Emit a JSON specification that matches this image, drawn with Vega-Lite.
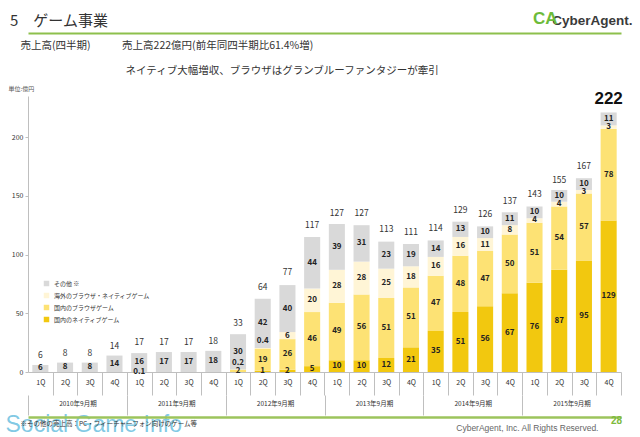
{
  "$schema": "https://vega.github.io/schema/vega-lite/v6.json",
  "width": 593,
  "height": 276,
  "autosize": {"type": "none"},
  "padding": {"left": 28, "top": 96, "right": 19, "bottom": 65},
  "background": "white",
  "config": {"font": "Noto Sans CJK JP", "view": {"stroke": null}},
  "title": {
    "text": "5　ゲーム事業",
    "subtitle": ["\u200b　売上高(四半期)　　　売上高222億円(前年同四半期比61.4%増)", "\u200b　　　　　　　　　　　ネイティブ大幅増収、ブラウザはグランブルーファンタジーが牽引"],
    "anchor": "start",
    "frame": "group",
    "dx": -18,
    "dy": 71,
    "fontSize": 15,
    "fontWeight": "normal",
    "color": "#333333",
    "subtitleFontSize": 10.5,
    "subtitleColor": "#333333",
    "subtitlePadding": 12,
    "subtitleLineHeight": 25
  },
  "datasets": {
    "seg": [
      {"q": "2010-1Q", "cat": "その他 ※", "value": 6},
      {"q": "2010-2Q", "cat": "その他 ※", "value": 8},
      {"q": "2010-3Q", "cat": "その他 ※", "value": 8},
      {"q": "2010-4Q", "cat": "その他 ※", "value": 14},
      {"q": "2011-1Q", "cat": "国内のブラウザゲーム", "value": 0.1},
      {"q": "2011-1Q", "cat": "その他 ※", "value": 16},
      {"q": "2011-2Q", "cat": "その他 ※", "value": 17},
      {"q": "2011-3Q", "cat": "その他 ※", "value": 17},
      {"q": "2011-4Q", "cat": "その他 ※", "value": 18},
      {"q": "2012-1Q", "cat": "国内のブラウザゲーム", "value": 2},
      {"q": "2012-1Q", "cat": "海外のブラウザ・ネイティブゲーム", "value": 0.2},
      {"q": "2012-1Q", "cat": "その他 ※", "value": 30},
      {"q": "2012-2Q", "cat": "国内のネイティブゲーム", "value": 1},
      {"q": "2012-2Q", "cat": "国内のブラウザゲーム", "value": 19},
      {"q": "2012-2Q", "cat": "海外のブラウザ・ネイティブゲーム", "value": 0.4},
      {"q": "2012-2Q", "cat": "その他 ※", "value": 42},
      {"q": "2012-3Q", "cat": "国内のネイティブゲーム", "value": 2},
      {"q": "2012-3Q", "cat": "国内のブラウザゲーム", "value": 26},
      {"q": "2012-3Q", "cat": "海外のブラウザ・ネイティブゲーム", "value": 6},
      {"q": "2012-3Q", "cat": "その他 ※", "value": 40},
      {"q": "2012-4Q", "cat": "国内のネイティブゲーム", "value": 5},
      {"q": "2012-4Q", "cat": "国内のブラウザゲーム", "value": 46},
      {"q": "2012-4Q", "cat": "海外のブラウザ・ネイティブゲーム", "value": 20},
      {"q": "2012-4Q", "cat": "その他 ※", "value": 44},
      {"q": "2013-1Q", "cat": "国内のネイティブゲーム", "value": 10},
      {"q": "2013-1Q", "cat": "国内のブラウザゲーム", "value": 49},
      {"q": "2013-1Q", "cat": "海外のブラウザ・ネイティブゲーム", "value": 28},
      {"q": "2013-1Q", "cat": "その他 ※", "value": 39},
      {"q": "2013-2Q", "cat": "国内のネイティブゲーム", "value": 10},
      {"q": "2013-2Q", "cat": "国内のブラウザゲーム", "value": 56},
      {"q": "2013-2Q", "cat": "海外のブラウザ・ネイティブゲーム", "value": 28},
      {"q": "2013-2Q", "cat": "その他 ※", "value": 31},
      {"q": "2013-3Q", "cat": "国内のネイティブゲーム", "value": 12},
      {"q": "2013-3Q", "cat": "国内のブラウザゲーム", "value": 51},
      {"q": "2013-3Q", "cat": "海外のブラウザ・ネイティブゲーム", "value": 25},
      {"q": "2013-3Q", "cat": "その他 ※", "value": 23},
      {"q": "2013-4Q", "cat": "国内のネイティブゲーム", "value": 21},
      {"q": "2013-4Q", "cat": "国内のブラウザゲーム", "value": 51},
      {"q": "2013-4Q", "cat": "海外のブラウザ・ネイティブゲーム", "value": 18},
      {"q": "2013-4Q", "cat": "その他 ※", "value": 19},
      {"q": "2014-1Q", "cat": "国内のネイティブゲーム", "value": 35},
      {"q": "2014-1Q", "cat": "国内のブラウザゲーム", "value": 47},
      {"q": "2014-1Q", "cat": "海外のブラウザ・ネイティブゲーム", "value": 16},
      {"q": "2014-1Q", "cat": "その他 ※", "value": 14},
      {"q": "2014-2Q", "cat": "国内のネイティブゲーム", "value": 51},
      {"q": "2014-2Q", "cat": "国内のブラウザゲーム", "value": 48},
      {"q": "2014-2Q", "cat": "海外のブラウザ・ネイティブゲーム", "value": 16},
      {"q": "2014-2Q", "cat": "その他 ※", "value": 13},
      {"q": "2014-3Q", "cat": "国内のネイティブゲーム", "value": 56},
      {"q": "2014-3Q", "cat": "国内のブラウザゲーム", "value": 47},
      {"q": "2014-3Q", "cat": "海外のブラウザ・ネイティブゲーム", "value": 11},
      {"q": "2014-3Q", "cat": "その他 ※", "value": 10},
      {"q": "2014-4Q", "cat": "国内のネイティブゲーム", "value": 67},
      {"q": "2014-4Q", "cat": "国内のブラウザゲーム", "value": 50},
      {"q": "2014-4Q", "cat": "海外のブラウザ・ネイティブゲーム", "value": 8},
      {"q": "2014-4Q", "cat": "その他 ※", "value": 11},
      {"q": "2015-1Q", "cat": "国内のネイティブゲーム", "value": 76},
      {"q": "2015-1Q", "cat": "国内のブラウザゲーム", "value": 51},
      {"q": "2015-1Q", "cat": "海外のブラウザ・ネイティブゲーム", "value": 4},
      {"q": "2015-1Q", "cat": "その他 ※", "value": 10},
      {"q": "2015-2Q", "cat": "国内のネイティブゲーム", "value": 87},
      {"q": "2015-2Q", "cat": "国内のブラウザゲーム", "value": 54},
      {"q": "2015-2Q", "cat": "海外のブラウザ・ネイティブゲーム", "value": 4},
      {"q": "2015-2Q", "cat": "その他 ※", "value": 10},
      {"q": "2015-3Q", "cat": "国内のネイティブゲーム", "value": 95},
      {"q": "2015-3Q", "cat": "国内のブラウザゲーム", "value": 57},
      {"q": "2015-3Q", "cat": "海外のブラウザ・ネイティブゲーム", "value": 3},
      {"q": "2015-3Q", "cat": "その他 ※", "value": 10},
      {"q": "2015-4Q", "cat": "国内のネイティブゲーム", "value": 129},
      {"q": "2015-4Q", "cat": "国内のブラウザゲーム", "value": 78},
      {"q": "2015-4Q", "cat": "海外のブラウザ・ネイティブゲーム", "value": 3},
      {"q": "2015-4Q", "cat": "その他 ※", "value": 11}
    ],
    "tot": [
      {"q": "2010-1Q", "total": 6}, {"q": "2010-2Q", "total": 8}, {"q": "2010-3Q", "total": 8}, {"q": "2010-4Q", "total": 14},
      {"q": "2011-1Q", "total": 17}, {"q": "2011-2Q", "total": 17}, {"q": "2011-3Q", "total": 17}, {"q": "2011-4Q", "total": 18},
      {"q": "2012-1Q", "total": 33}, {"q": "2012-2Q", "total": 64}, {"q": "2012-3Q", "total": 77}, {"q": "2012-4Q", "total": 117},
      {"q": "2013-1Q", "total": 127}, {"q": "2013-2Q", "total": 127}, {"q": "2013-3Q", "total": 113}, {"q": "2013-4Q", "total": 111},
      {"q": "2014-1Q", "total": 114}, {"q": "2014-2Q", "total": 129}, {"q": "2014-3Q", "total": 126}, {"q": "2014-4Q", "total": 137},
      {"q": "2015-1Q", "total": 143}, {"q": "2015-2Q", "total": 155}, {"q": "2015-3Q", "total": 167}, {"q": "2015-4Q", "total": 222}
    ]
  },
  "resolve": {"axis": {"x": "independent", "y": "independent"}},
  "layer": [
    {
      "data": {"name": "seg"},
      "transform": [
        {"calculate": "indexof(['国内のネイティブゲーム','国内のブラウザゲーム','海外のブラウザ・ネイティブゲーム','その他 ※'], datum.cat)", "as": "ord"},
        {"stack": "value", "groupby": ["q"], "sort": [{"field": "ord", "order": "ascending"}], "as": ["v0", "v1"]}
      ],
      "mark": {"type": "bar"},
      "encoding": {
        "x": {
          "field": "q", "type": "nominal",
          "scale": {"paddingInner": 0.35, "paddingOuter": 0.175},
          "axis": {
            "orient": "bottom",
            "labelExpr": "slice(datum.value, 5)",
            "labelAngle": 0,
            "labelFontSize": 7,
            "labelColor": "#333333",
            "labelPadding": -17,
            "labelOffset": -12.35,
            "tickOffset": 12.35,
            "tickSize": 23,
            "tickColor": "#bfbfbf",
            "domainColor": "#bfbfbf",
            "title": "Social Game Info",
            "titleX": -23,
            "titleY": 59,
            "titleAlign": "left",
            "titleBaseline": "alphabetic",
            "titleFontSize": 23,
            "titleFontWeight": "normal",
            "titleColor": "#6bbfe0",
            "titleOpacity": 0.85,
            "titleFont": "Liberation Sans"
          }
        },
        "y": {
          "field": "v1", "type": "quantitative",
          "scale": {"domain": [0, 235], "nice": false},
          "axis": {
            "values": [0, 50, 100, 150, 200],
            "grid": false,
            "labelFontSize": 7,
            "labelColor": "#333333",
            "tickSize": 3,
            "tickColor": "#bfbfbf",
            "domainColor": "#bfbfbf",
            "title": "単位:億円",
            "titleAngle": 0,
            "titleX": -20,
            "titleY": -8,
            "titleAlign": "left",
            "titleBaseline": "middle",
            "titleFontSize": 6,
            "titleFontWeight": "normal",
            "titleColor": "#555555"
          }
        },
        "y2": {"field": "v0"},
        "color": {
          "field": "cat", "type": "nominal",
          "scale": {
            "domain": ["その他 ※", "海外のブラウザ・ネイティブゲーム", "国内のブラウザゲーム", "国内のネイティブゲーム"],
            "range": ["#d9d9d9", "#fff5d6", "#fde274", "#f2c80f"]
          },
          "legend": {
            "orient": "none",
            "legendX": 15,
            "legendY": 184,
            "title": null,
            "symbolType": "square",
            "symbolSize": 30,
            "labelFontSize": 6,
            "labelColor": "#333333",
            "rowPadding": 5
          }
        }
      }
    },
    {
      "data": {"name": "seg"},
      "transform": [
        {"calculate": "indexof(['国内のネイティブゲーム','国内のブラウザゲーム','海外のブラウザ・ネイティブゲーム','その他 ※'], datum.cat)", "as": "ord"},
        {"stack": "value", "groupby": ["q"], "sort": [{"field": "ord", "order": "ascending"}], "as": ["v0", "v1"]},
        {"calculate": "(datum.v0 + datum.v1) / 2", "as": "mid"},
        {"filter": "!(datum.value < 1 && datum.cat === '海外のブラウザ・ネイティブゲーム')"}
      ],
      "mark": {"type": "text", "fontSize": 8, "fontWeight": "bold", "color": "#222222", "baseline": "middle"},
      "encoding": {
        "x": {
          "field": "q", "type": "nominal",
          "axis": {
            "orient": "top",
            "offset": 63,
            "labels": false,
            "ticks": false,
            "domainColor": "#8dc04c",
            "domainWidth": 2,
            "title": "CyberAgent.",
            "titleX": 604,
            "titleY": -9,
            "titleAlign": "right",
            "titleBaseline": "alphabetic",
            "titleFontSize": 13.5,
            "titleFontWeight": "bold",
            "titleColor": "#3a3a3a",
            "titleFont": "Liberation Sans"
          }
        },
        "y": {
          "field": "mid", "type": "quantitative",
          "axis": {
            "orient": "right",
            "labels": false,
            "ticks": false,
            "domain": false,
            "grid": false,
            "title": "CA",
            "titleAngle": 0,
            "titleX": -64,
            "titleY": -78,
            "titleAlign": "right",
            "titleBaseline": "middle",
            "titleFontSize": 17,
            "titleFontWeight": "bold",
            "titleColor": "#6dbb3a",
            "titleFont": "Liberation Sans"
          }
        },
        "text": {"field": "value", "type": "quantitative"}
      }
    },
    {
      "data": {"name": "seg"},
      "transform": [
        {"calculate": "indexof(['国内のネイティブゲーム','国内のブラウザゲーム','海外のブラウザ・ネイティブゲーム','その他 ※'], datum.cat)", "as": "ord"},
        {"stack": "value", "groupby": ["q"], "sort": [{"field": "ord", "order": "ascending"}], "as": ["v0", "v1"]},
        {"calculate": "(datum.v0 + datum.v1) / 2", "as": "mid"},
        {"filter": "datum.value < 1 && datum.cat === '海外のブラウザ・ネイティブゲーム'"}
      ],
      "mark": {"type": "text", "fontSize": 8, "fontWeight": "bold", "color": "#222222", "baseline": "middle", "dy": -7},
      "encoding": {
        "x": {"field": "q", "type": "nominal", "axis": null},
        "y": {"field": "mid", "type": "quantitative", "axis": null},
        "text": {"field": "value", "type": "quantitative"}
      }
    },
    {
      "data": {"name": "tot"},
      "transform": [{"filter": "datum.q !== '2015-4Q'"}],
      "mark": {"type": "text", "fontSize": 8.5, "color": "#333333", "baseline": "bottom", "dy": -5},
      "encoding": {
        "x": {
          "field": "q", "type": "nominal",
          "axis": {
            "orient": "bottom",
            "offset": 23,
            "values": ["2010-1Q", "2011-1Q", "2012-1Q", "2013-1Q", "2014-1Q", "2015-1Q"],
            "labelExpr": "slice(datum.value, 0, 4) + '年9月期'",
            "labelAngle": 0,
            "labelOffset": 49.4,
            "labelFontSize": 6.5,
            "labelColor": "#333333",
            "labelPadding": -15,
            "tickOffset": -12.35,
            "tickSize": 20,
            "tickColor": "#bfbfbf",
            "domain": false,
            "title": "※その他の売上高：PC・フィーチャーフォン向けのゲーム等",
            "titleX": -8,
            "titleY": 28,
            "titleAlign": "left",
            "titleBaseline": "middle",
            "titleFontSize": 6.5,
            "titleFontWeight": "normal",
            "titleColor": "#333333"
          }
        },
        "y": {"field": "total", "type": "quantitative", "axis": null},
        "text": {"field": "total", "type": "quantitative"}
      }
    },
    {
      "data": {"name": "tot"},
      "transform": [{"filter": "datum.q === '2015-4Q'"}],
      "mark": {"type": "text", "fontSize": 17, "fontWeight": "bold", "color": "#111111", "baseline": "bottom", "dy": -3, "font": "Liberation Sans"},
      "encoding": {
        "x": {
          "field": "q", "type": "nominal",
          "axis": {
            "orient": "bottom",
            "offset": 45,
            "labels": false,
            "ticks": false,
            "domainColor": "#9cc45c",
            "domainWidth": 2.5,
            "title": "CyberAgent, Inc. All Rights Reserved.",
            "titleX": 570,
            "titleY": 10,
            "titleAlign": "right",
            "titleBaseline": "middle",
            "titleFontSize": 8.5,
            "titleFontWeight": "normal",
            "titleColor": "#666666",
            "titleFont": "Liberation Sans"
          }
        },
        "y": {
          "field": "total", "type": "quantitative",
          "axis": {
            "orient": "right",
            "labels": false,
            "ticks": false,
            "domain": false,
            "grid": false,
            "title": "28",
            "titleAngle": 0,
            "titleX": -5,
            "titleY": 324,
            "titleAlign": "center",
            "titleBaseline": "middle",
            "titleFontSize": 10,
            "titleFontWeight": "bold",
            "titleColor": "#7dba3c",
            "titleFont": "Liberation Sans"
          }
        },
        "text": {"field": "total", "type": "quantitative"}
      }
    }
  ]
}
